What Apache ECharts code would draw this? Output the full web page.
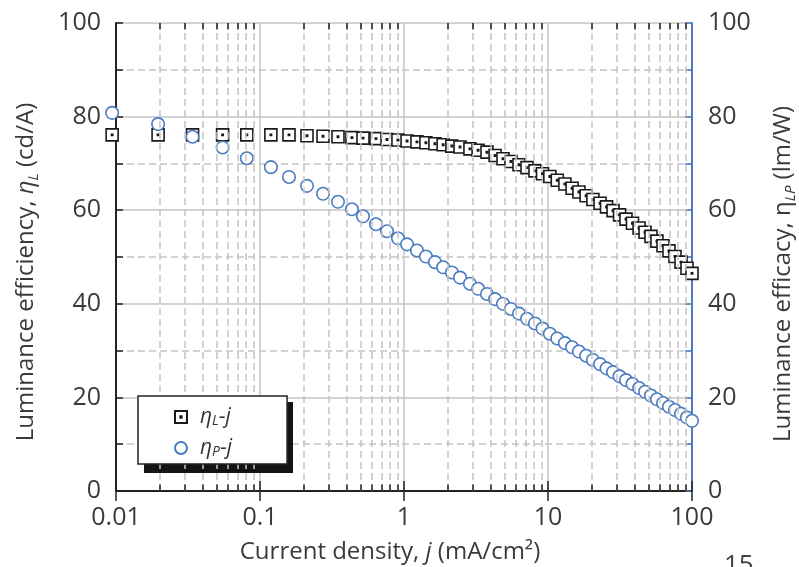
<!DOCTYPE html>
<html><head><meta charset="utf-8">
<script src="https://cdn.jsdelivr.net/npm/echarts@6/dist/echarts.min.js"></script>
<style>html,body{margin:0;padding:0;background:#fff}#c{width:799px;height:567px}</style>
</head><body><div id="c"></div>
<script>
// ---- data ----
const currentDensity = [0.0094, 0.0196, 0.034, 0.055, 0.081, 0.119, 0.159, 0.212, 0.274, 0.348, 0.435, 0.519, 0.639, 0.762, 0.908, 1.05, 1.23, 1.42, 1.64, 1.87, 2.15, 2.45, 2.87, 3.27, 3.77, 4.29, 4.87, 5.53, 6.29, 7.15, 8.12, 9.16, 10.3, 11.6, 13.1, 14.7, 16.4, 18.4, 20.5, 23.0, 25.5, 28.3, 31.4, 34.8, 38.6, 42.9, 47.2, 51.9, 57.1, 62.9, 69.2, 76.2, 83.9, 92.3, 100];
const etaL = [76.1, 76.1, 76.1, 76.1, 76.1, 76.1, 76.1, 75.9, 75.8, 75.7, 75.5, 75.4, 75.3, 75.1, 75.0, 74.8, 74.6, 74.4, 74.2, 74.0, 73.7, 73.5, 73.1, 72.8, 72.4, 71.7, 71.0, 70.4, 69.7, 69.1, 68.4, 67.8, 67.2, 66.4, 65.6, 64.7, 63.9, 63.1, 62.3, 61.5, 60.7, 59.9, 59.0, 58.1, 57.2, 56.2, 55.3, 54.4, 53.4, 52.4, 51.3, 50.1, 48.9, 47.6, 46.5];
const etaP = [80.8, 78.4, 75.7, 73.4, 71.1, 69.2, 67.1, 65.2, 63.5, 61.8, 60.2, 58.7, 57.0, 55.5, 54.0, 52.7, 51.4, 50.1, 48.9, 47.8, 46.7, 45.6, 44.3, 43.2, 42.1, 41.0, 40.0, 38.9, 37.9, 36.8, 35.8, 34.7, 33.6, 32.6, 31.6, 30.7, 29.8, 28.9, 28.0, 27.1, 26.2, 25.4, 24.5, 23.7, 22.9, 22.0, 21.2, 20.4, 19.6, 18.8, 18.0, 17.3, 16.5, 15.7, 15.0];
const seriesNames = ['ηL-j', 'ηP-j'];
const legendLabels = ['{p|η}{s|L}{g|-}{i|j}', '{p|η}{s|P}{g|-}{i|j}'];
const xTickValues = [0.01, 0.1, 1, 10, 100];
const xTickLabels = ['0.01', '0.1', '1', '10', '100'];
const decades = [0.01, 0.1, 1, 10];
const minorMultipliers = [2, 3, 4, 5, 6, 7, 8, 9];
const pageNumber = '15';

// ---- styling ----
const FONT = '"Open Sans", sans-serif';
const TXT = '#3a3a3a';
const GRID = '#c4c4c4';
const AXIS = '#222';
const BLUE = '#4a7cc0';
const DASH = [7, 4];
const squarePath = 'path://M0,0H10V10H0Z M4.45,4.45H5.55V5.55H4.45Z';

const minorX = [];
decades.forEach(d => minorMultipliers.forEach(m => minorX.push(+(d * m).toPrecision(3))));

const markData = [];
minorX.forEach(v => {
  markData.push({ xAxis: v });
  markData.push([{ coord: [v, 0], lineStyle: { type: 'solid', color: AXIS, width: 1.5 } }, { coord: [v, 1.4] }]);
  markData.push([{ coord: [v, 100], lineStyle: { type: 'solid', color: AXIS, width: 1.5 } }, { coord: [v, 98.6] }]);
});

function xLabel(v) {
  const i = xTickValues.findIndex(t => Math.abs(Math.log10(t) - Math.log10(v)) < 1e-6);
  return i >= 0 ? xTickLabels[i] : '';
}

const richBase = { fontFamily: FONT, color: TXT };
const NAME_FS = 24;
const chart = echarts.init(document.getElementById('c'), null, { renderer: 'canvas' });
chart.setOption({
  animation: false,
  backgroundColor: '#fff',
  textStyle: { fontFamily: FONT },
  grid: { left: 116, right: 107, top: 23, bottom: 76, containLabel: false, outerBoundsMode: 'none' },
  legend: {
    data: seriesNames,
    orient: 'vertical',
    left: 138, top: 396,
    padding: [10, 55, 5, 36],
    itemGap: 9, itemWidth: 12, itemHeight: 12,
    backgroundColor: '#fff', borderColor: AXIS, borderWidth: 1.5, borderRadius: 0,
    selectedMode: false,
    z: 6,
    formatter: name => legendLabels[seriesNames.indexOf(name)],
    textStyle: {
      fontFamily: FONT, fontSize: 21, color: '#333', lineHeight: 22,
      rich: {
        p: { fontSize: 21, fontStyle: 'italic', padding: [0, 0, 0, 8], lineHeight: 22 },
        g: { fontSize: 21, lineHeight: 22 },
        i: { fontSize: 21, fontStyle: 'italic', lineHeight: 22 },
        s: { fontSize: 14, fontStyle: 'italic', verticalAlign: 'bottom', lineHeight: 14 }
      }
    }
  },
  xAxis: [
    {
      type: 'log', logBase: 10, min: 0.01, max: 100, position: 'bottom',
      name: '{a|Current density, }{i|j}{a| (mA/cm²)}',
      nameLocation: 'middle', nameGap: 49,
      nameTextStyle: {
        fontSize: NAME_FS, color: TXT, padding: [0, 28, 0, 0],
        rich: { a: Object.assign({ fontSize: NAME_FS }, richBase), i: Object.assign({ fontSize: NAME_FS, fontStyle: 'italic' }, richBase) }
      },
      axisLine: { show: true, lineStyle: { color: AXIS, width: 2 } },
      axisTick: { show: true, inside: true, length: 10, lineStyle: { color: AXIS, width: 1.5 } },
      axisLabel: { fontSize: 25, color: TXT, margin: 14, formatter: xLabel },
      splitLine: { show: true, lineStyle: { color: GRID, width: 1.5 } }
    },
    {
      type: 'log', logBase: 10, min: 0.01, max: 100, position: 'top',
      axisLine: { show: true, lineStyle: { color: AXIS, width: 1.5 } },
      axisTick: { show: true, inside: true, length: 10, lineStyle: { color: AXIS, width: 1.5 } },
      axisLabel: { show: false },
      splitLine: { show: false }
    }
  ],
  yAxis: [
    {
      type: 'value', min: 0, max: 100, interval: 20, position: 'left',
      name: '{a|Luminance efficiency, }{e|η}{s|L}{a| (cd/A)}',
      nameLocation: 'middle', nameGap: 75,
      nameTextStyle: {
        fontSize: NAME_FS, color: TXT, padding: [0, 30, 0, 0],
        rich: {
          a: Object.assign({ fontSize: NAME_FS, lineHeight: 30 }, richBase),
          e: Object.assign({ fontSize: NAME_FS, fontStyle: 'italic', lineHeight: 30 }, richBase),
          s: Object.assign({ fontSize: 15, fontStyle: 'italic', verticalAlign: 'bottom', lineHeight: 15 }, richBase)
        }
      },
      axisLine: { show: true, lineStyle: { color: AXIS, width: 2 } },
      axisTick: { show: true, inside: true, length: 7, lineStyle: { color: AXIS, width: 1.5 } },
      minorTick: { show: true, splitNumber: 2, length: 7, lineStyle: { color: AXIS, width: 1.5 } },
      axisLabel: { fontSize: 25, color: TXT, margin: 15 },
      splitLine: { show: true, lineStyle: { color: GRID, width: 1.5 } },
      minorSplitLine: { show: true, lineStyle: { color: GRID, width: 1.5, type: DASH } }
    },
    {
      type: 'value', min: 0, max: 100, interval: 20, position: 'right',
      name: '{a|Luminance efficacy, }{e|η}{s|LP}{a| (lm/W)}',
      nameLocation: 'middle', nameGap: 76,
      nameTextStyle: {
        fontSize: NAME_FS, color: TXT, padding: [0, 34, 0, 0],
        rich: {
          a: Object.assign({ fontSize: NAME_FS, lineHeight: 30 }, richBase),
          e: Object.assign({ fontSize: NAME_FS, lineHeight: 30 }, richBase),
          s: Object.assign({ fontSize: 15, fontStyle: 'italic', verticalAlign: 'bottom', lineHeight: 15 }, richBase)
        }
      },
      axisLine: { show: true, lineStyle: { color: BLUE, width: 2 } },
      axisTick: { show: true, inside: true, length: 7, lineStyle: { color: BLUE, width: 1.5 } },
      minorTick: { show: true, splitNumber: 2, length: 7, lineStyle: { color: BLUE, width: 1.5 } },
      axisLabel: { fontSize: 25, color: TXT, margin: 16 },
      splitLine: { show: false }
    }
  ],
  series: [
    {
      name: 'minor-grid', type: 'line', data: [], xAxisIndex: 0, yAxisIndex: 0, z: 1, silent: true,
      markLine: {
        silent: true, symbol: 'none', label: { show: false }, animation: false,
        lineStyle: { color: GRID, width: 1.5, type: DASH },
        emphasis: { disabled: true },
        data: markData
      }
    },
    {
      name: seriesNames[0], type: 'scatter', xAxisIndex: 0, yAxisIndex: 0, z: 3, clip: false,
      symbol: squarePath, symbolSize: 12,
      itemStyle: { color: '#fff', borderColor: '#1a1a1a', borderWidth: 1.6, opacity: 1 },
      data: currentDensity.map((x, i) => [x, etaL[i]])
    },
    {
      name: seriesNames[1], type: 'scatter', xAxisIndex: 0, yAxisIndex: 1, z: 4, clip: false,
      symbol: 'circle', symbolSize: 12.5,
      itemStyle: { color: '#fff', borderColor: BLUE, borderWidth: 1.6, opacity: 1 },
      data: currentDensity.map((x, i) => [x, etaP[i]])
    }
  ],
  graphic: [
    { type: 'rect', z: 5, shape: { x: 144, y: 402, width: 149, height: 71 }, style: { fill: '#141414' } },
    { type: 'text', left: 724, top: 553, style: { text: pageNumber, font: '26px "Open Sans"', fill: '#444' } }
  ]
});
</script>
</body></html>
